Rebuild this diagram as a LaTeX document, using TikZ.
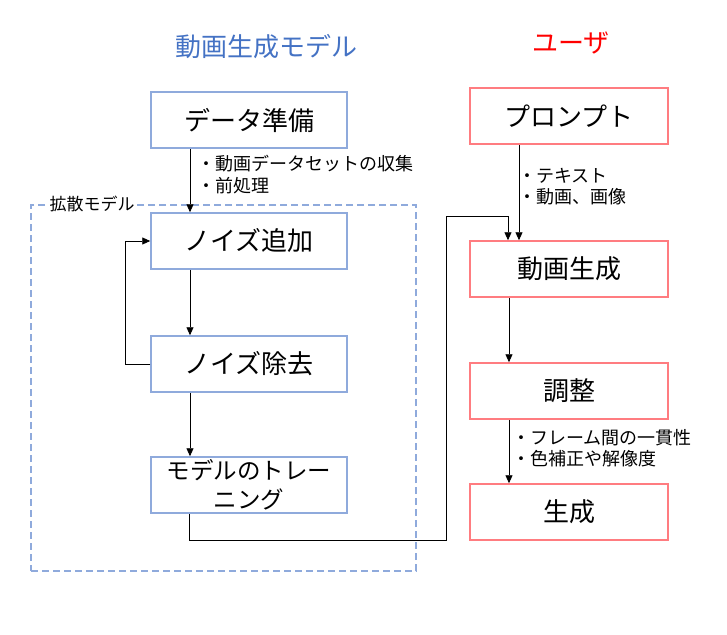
\documentclass[tikz,border=0pt]{standalone}
\usepackage{fontspec}
\setmainfont{Noto Sans CJK JP}
\usetikzlibrary{arrows.meta,calc}
\definecolor{bluebox}{HTML}{8FAADC}
\definecolor{bluetitle}{HTML}{4472C4}
\definecolor{redbox}{HTML}{FF7C80}
\begin{document}
\begin{tikzpicture}[x=1pt,y=-1pt,
  lbox/.style={draw=bluebox,line width=1.5pt,minimum width=196pt,minimum height=56pt,inner sep=0pt,font=\fontsize{26}{29}\selectfont,align=center},
  rbox/.style={draw=redbox,line width=1.5pt,minimum width=198pt,minimum height=56pt,inner sep=0pt,font=\fontsize{26}{29}\selectfont,align=center},
  note/.style={font=\fontsize{18}{21.5}\selectfont,align=left,anchor=north west,inner sep=0pt},
  arr/.style={-{Triangle[length=8pt,width=7pt]},line width=0.9pt}
]
\useasboundingbox (0,0) rectangle (727,634);
% titles
\node[text=bluetitle,font=\fontsize{26}{30}\selectfont] (t1) at (266,47) {動画生成モデル};
\node[text=red,font=\fontsize{26}{30}\selectfont] (t2) at (571,43) {ユーザ};
% diffusion container
\node[draw=bluebox,line width=1.5pt,dash pattern=on 7pt off 4pt,minimum width=385pt,minimum height=366pt,inner sep=0pt] (diff) at (223.5,388) {};
\node[fill=white,inner sep=2pt,font=\fontsize{17}{20}\selectfont] (difflabel) at (92,204) {拡散モデル};
% left boxes
\node[lbox] (data) at (249,120) {データ準備};
\node[lbox] (nadd) at (249,241) {ノイズ追加};
\node[lbox] (nrem) at (249,364) {ノイズ除去};
\node[lbox,font=\fontsize{23.5}{29}\selectfont] (train) at (249,485) {モデルのトレー\\ニング};
% right boxes
\node[rbox] (prompt) at (569,116) {プロンプト};
\node[rbox] (gen) at (569,269) {動画生成};
\node[rbox] (adj) at (569,391) {調整};
\node[rbox] (out) at (569,512) {生成};
% coordinates
\coordinate (lx) at (190,0);
\coordinate (rx) at (519,0);
\coordinate (rx2) at (509,0);
\coordinate (c1) at (189,540);
\coordinate (c2) at (446,540);
\coordinate (c3) at (446,216);
\coordinate (c4) at (508,216);
% left arrows
\draw[arr] (data.south -| lx) -- (nadd.north -| lx);
\draw[arr] (nadd.south -| lx) -- (nrem.north -| lx);
\draw[arr] (nrem.south -| lx) -- (train.north -| lx);
\draw[arr] (nrem.west) -- ++(-25,0) |- (nadd.west);
\draw[arr] (train.south -| c1) -- (c1) -- (c2) -- (c3) -- (c4) -- (gen.north -| c4);
% right arrows
\draw[arr] (prompt.south -| rx) -- (gen.north -| rx);
\draw[arr] (gen.south -| rx2) -- (adj.north -| rx2);
\draw[arr] (adj.south -| rx2) -- (out.north -| rx2);
% notes
\node[note] (n1) at (197,155) {・動画データセットの収集\\・前処理};
\node[note] (n2) at (518,168) {・テキスト\\・動画、画像};
\node[note] (n3) at (512,429) {・フレーム間の一貫性\\・色補正や解像度};
\end{tikzpicture}
\end{document}
